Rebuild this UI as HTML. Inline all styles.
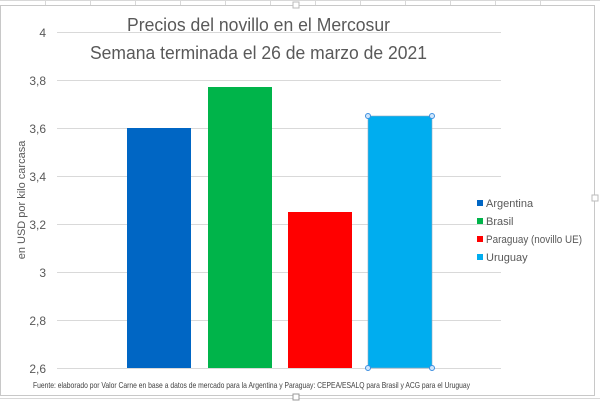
<!DOCTYPE html><html><head><meta charset="utf-8"><style>
body{margin:0;width:600px;height:402px;overflow:hidden;background:#fff;font-family:"Liberation Sans",sans-serif}
</style></head><body>
<svg width="600" height="402" xmlns="http://www.w3.org/2000/svg" font-family="Liberation Sans, sans-serif">
<rect width="600" height="402" fill="#fff"/>
<g stroke="#d8d8d8" stroke-width="1">
<line x1="0" y1="0.5" x2="600" y2="0.5"/><line x1="0" y1="398.5" x2="600" y2="398.5"/>
<line x1="45.5" y1="0" x2="45.5" y2="6"/><line x1="90.5" y1="0" x2="90.5" y2="6"/><line x1="135.5" y1="0" x2="135.5" y2="6"/><line x1="180.5" y1="0" x2="180.5" y2="6"/><line x1="225.5" y1="0" x2="225.5" y2="6"/><line x1="270.5" y1="0" x2="270.5" y2="6"/><line x1="315.5" y1="0" x2="315.5" y2="6"/><line x1="360.5" y1="0" x2="360.5" y2="6"/><line x1="405.5" y1="0" x2="405.5" y2="6"/><line x1="450.5" y1="0" x2="450.5" y2="6"/><line x1="495.5" y1="0" x2="495.5" y2="6"/><line x1="540.5" y1="0" x2="540.5" y2="6"/>
</g>
<rect x="0.5" y="5.5" width="594" height="390" fill="#fff" stroke="#c8c8c8"/>
<g stroke="#d9d9d9" stroke-width="1">
<line x1="57" y1="32.5" x2="501" y2="32.5"/><line x1="57" y1="80.5" x2="501" y2="80.5"/><line x1="57" y1="128.5" x2="501" y2="128.5"/><line x1="57" y1="176.5" x2="501" y2="176.5"/><line x1="57" y1="224.5" x2="501" y2="224.5"/><line x1="57" y1="272.5" x2="501" y2="272.5"/><line x1="57" y1="320.5" x2="501" y2="320.5"/><line x1="57" y1="368.5" x2="501" y2="368.5"/>
</g>
<g font-size="12" fill="#595959" text-anchor="end">
<text x="46" y="37">4</text><text x="46" y="85">3,8</text><text x="46" y="133">3,6</text><text x="46" y="181">3,4</text><text x="46" y="229">3,2</text><text x="46" y="277">3</text><text x="46" y="325">2,8</text><text x="46" y="373">2,6</text>
</g>
<text transform="translate(25,200) rotate(-90)" font-size="11" fill="#595959" text-anchor="middle">en USD por kilo carcasa</text>
<rect x="127" y="128" width="64" height="240" fill="#0066c4"/>
<rect x="208" y="87" width="64" height="281" fill="#00b44a"/>
<rect x="288" y="212" width="64" height="156" fill="#ff0000"/>
<rect x="368" y="116" width="64" height="252" fill="#00adef" stroke="#8fa8c0" stroke-width="0.6"/>
<g fill="#cfe6fb" stroke="#3d8fe0" stroke-width="1"><circle cx="368" cy="116" r="2.5"/><circle cx="432" cy="116" r="2.5"/><circle cx="368" cy="368" r="2.5"/><circle cx="432" cy="368" r="2.5"/></g>
<g font-size="18" fill="#595959">
<text x="127" y="31" textLength="263" lengthAdjust="spacingAndGlyphs">Precios del novillo en el Mercosur</text>
<text x="90" y="59" textLength="337" lengthAdjust="spacingAndGlyphs">Semana terminada el 26 de marzo de 2021</text>
</g>
<g font-size="11" fill="#595959">
<rect x="477" y="200" width="6" height="6" fill="#0066c4"/><text x="486" y="207">Argentina</text>
<rect x="477" y="218" width="6" height="6" fill="#00b44a"/><text x="486" y="225">Brasil</text>
<rect x="477" y="236" width="6" height="6" fill="#ff0000"/><text x="486" y="243" textLength="96" lengthAdjust="spacingAndGlyphs">Paraguay (novillo UE)</text>
<rect x="477" y="254" width="6" height="6" fill="#00adef"/><text x="486" y="261">Uruguay</text>
</g>
<text x="33" y="388" font-size="8.4" fill="#404040" textLength="437" lengthAdjust="spacingAndGlyphs">Fuente: elaborado por Valor Carne en base a datos de mercado para la Argentina y Paraguay: CEPEA/ESALQ para Brasil y ACG para el Uruguay</text>
<rect x="293" y="394" width="6" height="6" fill="#fff" stroke="#999"/>
<rect x="293" y="2" width="6" height="6" fill="#fff" stroke="#bbb"/>
<rect x="592" y="195" width="6" height="6" fill="#fff" stroke="#bbb"/>
</svg>
</body></html>
